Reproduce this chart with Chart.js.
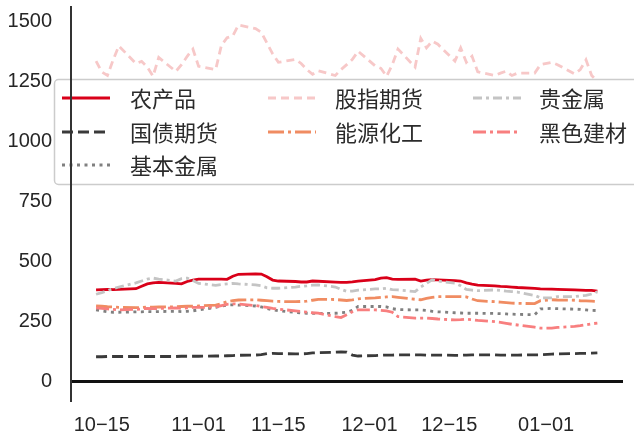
<!DOCTYPE html>
<html>
<head>
<meta charset="utf-8">
<script src="https://cdn.jsdelivr.net/npm/chart.js@4.4.1/dist/chart.umd.min.js"></script>
<style>
  html, body { margin: 0; padding: 0; background: #fff; }
  #chart { display: block; }
</style>
</head>
<body>
<canvas id="chart" width="634" height="437"></canvas>
<script>
// ── Data ──
const dates = [
  "2024-10-14","2024-10-15","2024-10-16","2024-10-17","2024-10-18",
  "2024-10-21","2024-10-22","2024-10-23","2024-10-24","2024-10-25",
  "2024-10-28","2024-10-29","2024-10-30","2024-10-31",
  "2024-11-01","2024-11-04","2024-11-05","2024-11-06","2024-11-07","2024-11-08",
  "2024-11-11","2024-11-12","2024-11-13","2024-11-14","2024-11-15",
  "2024-11-18","2024-11-19","2024-11-20","2024-11-21","2024-11-22",
  "2024-11-25","2024-11-26","2024-11-27","2024-11-28","2024-11-29",
  "2024-12-02","2024-12-03","2024-12-04","2024-12-05","2024-12-06",
  "2024-12-09","2024-12-10","2024-12-11","2024-12-12","2024-12-13",
  "2024-12-16","2024-12-17","2024-12-18","2024-12-19","2024-12-20",
  "2024-12-23","2024-12-24","2024-12-25","2024-12-26","2024-12-27",
  "2024-12-30","2024-12-31",
  "2025-01-02","2025-01-03",
  "2025-01-06","2025-01-07","2025-01-08","2025-01-09","2025-01-10"
];

const agri = [
  383,384,385,384,385, 388,398,408,412,414, 410,408,418,424,
  428,428,428,427,440,448, 450,449,438,424,420, 418,416,416,420,419,
  415,414,414,416,420, 426,432,434,428,427, 428,420,424,426,425,
  422,420,412,407,403, 400,398,397,395,393, 389,387, 386,385,
  383,382,381,381,378
];
const treasury = [
  105,105,106,106,106, 106,106,106,106,106, 106,107,107,107,
  107,108,108,109,110,111, 112,114,118,119,118, 117,117,118,121,122,
  124,125,124,112,108, 110,111,112,112,113, 113,113,112,112,112,
  111,111,112,113,113, 113,112,112,112,112, 113,113, 116,117,
  118,119,119,120,121
];
const baseMetal = [
  300,296,292,290,290, 292,292,293,292,293, 294,293,294,296,
  300,310,316,320,321,320, 316,312,306,300,296, 290,287,286,286,285,
  286,288,290,298,314, 314,314,312,305,301, 300,300,298,294,292,
  288,287,286,286,286, 285,284,283,282,281, 280,304, 306,305,
  303,302,300,298,297
];
const stockIndex = [
  1335,1290,1275,1340,1398, 1325,1334,1310,1272,1350, 1292,1320,1355,1385,
  1313,1300,1400,1432,1440,1485, 1470,1455,1410,1365,1330, 1342,1325,1300,1280,1295,
  1275,1300,1320,1342,1376, 1315,1305,1272,1320,1385, 1310,1430,1390,1418,1405,
  1335,1390,1330,1355,1290, 1275,1285,1293,1275,1285, 1285,1320, 1330,1320,
  1282,1300,1340,1275,1250
];
const energy = [
  317,315,313,312,310, 309,310,312,311,312, 313,314,315,315,
  316,320,326,334,338,341, 342,340,338,336,335, 334,335,336,340,344,
  343,341,339,342,346, 350,352,354,355,352, 344,342,348,352,355,
  355,355,354,345,338, 334,332,330,328,327, 326,338, 342,341,
  340,338,337,336,335
];
const preciousMetal = [
  365,372,380,388,395, 412,420,428,432,428, 420,430,432,422,
  410,402,405,408,410,408, 404,400,392,390,390, 395,398,400,403,404,
  395,385,377,378,382, 387,387,390,384,383, 376,395,410,425,420,
  411,400,385,382,380, 383,381,378,376,374, 360,350, 350,355,
  355,358,360,366,375
];
const ferrous = [
  308,306,304,302,300, 302,304,306,305,306, 308,306,308,310,
  310,312,318,323,325,324, 318,314,310,306,303, 296,293,291,288,286,
  272,268,280,292,300, 300,298,296,290,272, 266,266,266,264,262,
  258,259,261,259,256, 251,248,244,240,237, 228,224, 224,227,
  231,234,238,242,245
];

const seriesNames = ["农产品", "国债期货", "基本金属", "股指期货", "能源化工", "贵金属", "黑色建材"];
const seriesValues = [agri, treasury, baseMetal, stockIndex, energy, preciousMetal, ferrous];

const xTickDates = ["2024-10-15", "2024-11-01", "2024-11-15", "2024-12-01", "2024-12-15", "2025-01-01"];
const xTickLabels = ["10\u221215", "11\u221201", "11\u221215", "12\u221201", "12\u221215", "01\u221201"];
const yTicks = [0, 250, 500, 750, 1000, 1250, 1500];

// ── Styles ──
const lineColors = ["#d90019", "#3a3a3a", "#808080", "#f7c8c8", "#f08c62", "#c4c4c4", "#f87f7f"];
const lineDashes = [[], [11, 5], [3, 4.5], [8, 5], [16, 4, 3, 4], [9, 4, 3, 4], [13, 4, 3, 4]];
const LINE_W = 2.8;

// days since first date, so the x axis keeps calendar spacing
const dayOf = s => Math.round((Date.UTC(+s.slice(0, 4), +s.slice(5, 7) - 1, +s.slice(8, 10)) - Date.UTC(2024, 9, 14)) / 864e5);
const xs = dates.map(dayOf);

const datasets = seriesNames.map((name, i) => ({
  label: name,
  data: seriesValues[i].map((v, j) => ({ x: xs[j], y: v })),
  borderColor: lineColors[i],
  borderWidth: LINE_W,
  borderDash: lineDashes[i],
  borderCapStyle: "butt",
  pointRadius: 0,
  tension: 0,
  fill: false,
  order: -i,
}));

// ── Legend box inside the plot ──
function roundRect(ctx, x, y, w, h, r) {
  ctx.beginPath();
  ctx.moveTo(x + r, y);
  ctx.lineTo(x + w - r, y);
  ctx.arcTo(x + w, y, x + w, y + r, r);
  ctx.lineTo(x + w, y + h - r);
  ctx.arcTo(x + w, y + h, x + w - r, y + h, r);
  ctx.lineTo(x + r, y + h);
  ctx.arcTo(x, y + h, x, y + h - r, r);
  ctx.lineTo(x, y + r);
  ctx.arcTo(x, y, x + r, y, r);
  ctx.closePath();
}

const legendBox = {
  id: "legendBox",
  afterDatasetsDraw(chart) {
    const ctx = chart.ctx;
    ctx.save();
    roundRect(ctx, 54.5, 79.5, 600, 105, 4);
    ctx.fillStyle = "rgba(255,255,255,0.85)";
    ctx.fill();
    ctx.strokeStyle = "#cccccc";
    ctx.lineWidth = 1.5;
    ctx.stroke();

    const cols = [{ hx: 62, tx: 130 }, { hx: 268, tx: 335 }, { hx: 473, tx: 539 }];
    const rows = [98, 132, 165];
    const slots = [[0, 0], [0, 1], [0, 2], [1, 0], [1, 1], [2, 0], [2, 1]];
    ctx.font = '22px "Noto Sans CJK SC"';
    ctx.textBaseline = "middle";
    ctx.textAlign = "left";
    chart.data.datasets.forEach((ds, i) => {
      const [c, r] = slots[i];
      const y = rows[r];
      ctx.beginPath();
      ctx.setLineDash(ds.borderDash);
      ctx.lineCap = "butt";
      ctx.strokeStyle = ds.borderColor;
      ctx.lineWidth = ds.borderWidth;
      ctx.moveTo(cols[c].hx, y);
      ctx.lineTo(cols[c].hx + 48, y);
      ctx.stroke();
      ctx.setLineDash([]);
      ctx.fillStyle = "#2b2b2b";
      ctx.fillText(ds.label, cols[c].tx, y + 1);
    });
    ctx.restore();
  }
};

const noPad = s => { s.paddingTop = 0; s.paddingBottom = 0; s.paddingLeft = 0; s.paddingRight = 0; };

// ── Chart ──
new Chart(document.getElementById("chart"), {
  type: "line",
  data: { datasets },
  options: {
    responsive: false,
    animation: false,
    layout: { padding: { left: 0, right: 11, top: 7, bottom: 0 } },
    plugins: { legend: { display: false }, tooltip: { enabled: false } },
    scales: {
      x: {
        type: "linear",
        min: -4.4,
        max: 92.5,
        grid: { display: false, drawTicks: false },
        border: { display: false },
        afterBuildTicks: s => { s.ticks = xTickDates.map(d => ({ value: dayOf(d) })); },
        afterFit: s => { s.height = 37; noPad(s); },
        ticks: {
          autoSkip: false,
          maxRotation: 0,
          padding: 13,
          color: "#262626",
          font: { family: "'Liberation Sans', Arial, sans-serif", size: 20 },
          callback: v => xTickLabels[xTickDates.findIndex(d => dayOf(d) === v)],
        },
      },
      y: {
        min: -75,
        max: 1560,
        grid: {
          drawTicks: false,
          color: c => (c.tick && c.tick.value === 0 ? "#111111" : "rgba(0,0,0,0)"),
          lineWidth: c => (c.tick && c.tick.value === 0 ? 3 : 0),
        },
        border: { display: true, color: "#333333", width: 2, z: 1 },
        afterBuildTicks: s => { s.ticks = yTicks.map(v => ({ value: v })); },
        afterFit: s => { s.width = 71; noPad(s); },
        ticks: {
          padding: 19,
          color: "#262626",
          font: { family: "'Liberation Sans', Arial, sans-serif", size: 20 },
          callback: v => String(v),
        },
      },
    },
  },
  plugins: [legendBox],
});
</script>
</body>
</html>
